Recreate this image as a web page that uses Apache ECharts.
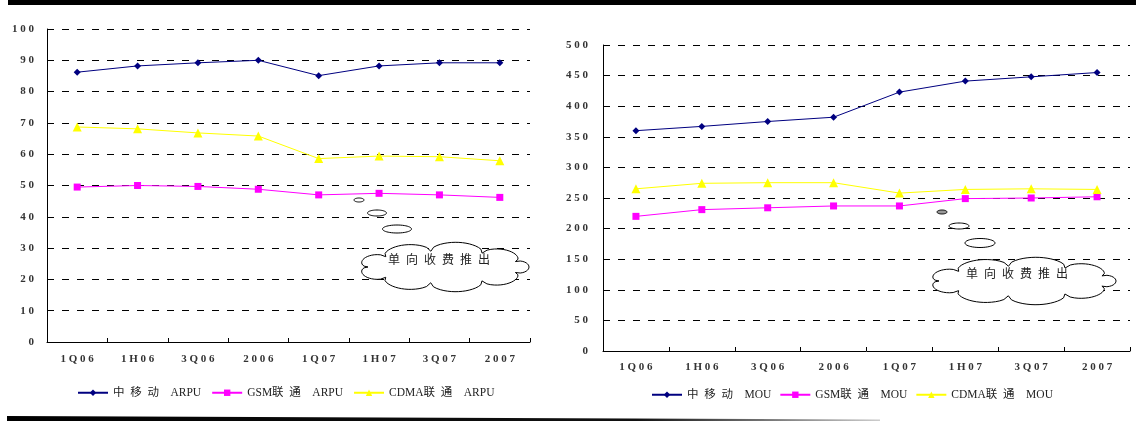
<!DOCTYPE html>
<html>
<head>
<meta charset="utf-8">
<script src="https://cdn.jsdelivr.net/npm/echarts@6/dist/echarts.min.js"></script>
<style>
  html, body { margin: 0; padding: 0; background: #fff; }
  #chart { width: 1141px; height: 423px; }
</style>
</head>
<body>
<div id="chart"></div>
<script>
// Periods shared by both panels
const categories = ['1Q06', '1H06', '3Q06', '2006', '1Q07', '1H07', '3Q07', '2007'];

// ARPU (yuan)
const arpuCMCC = [86.2, 88.2, 89.2, 90.0, 85.1, 88.2, 89.2, 89.2];
const arpuGSM  = [49.5, 50.0, 49.7, 48.8, 47.0, 47.5, 47.0, 46.2];
const arpuCDMA = [68.7, 68.1, 66.8, 65.8, 58.6, 59.4, 59.2, 57.9];

// MOU (minutes)
const mouCMCC = [360, 367, 375, 382, 423, 441, 448, 455];
const mouGSM  = [220, 231, 234, 237, 237, 249, 250, 252];
const mouCDMA = [265, 274, 275, 275, 258, 264, 265, 264];

// Value axis ranges: [min, max, interval]
const arpuAxisRange = [0, 100, 10];
const mouAxisRange  = [0, 500, 50];

// Legend names
const arpuNames = ['中移动 ARPU', 'GSM联通 ARPU', 'CDMA联通 ARPU'];
const mouNames  = ['中移动 MOU', 'GSM联通 MOU', 'CDMA联通 MOU'];

// Callout text
const calloutText = '单向收费推出';

const NAVY = '#000080', MAGENTA = '#ff00ff', YELLOW = '#ffff00';
const SERIF = '"Liberation Serif", "Times New Roman", "Noto Sans CJK SC", serif';

// Spread characters out a little, the way the labels are typeset
function spaced(s) { return s.split('').join(' '); }
function legendSpaced(name) {
  const parts = name.split(' ');
  const head = parts[0].replace(/([\u4e00-\u9fff])(?=[\u4e00-\u9fff])/g, '$1\u2002');
  return head + '\u2003' + parts.slice(1).join(' ');
}

function makeSeries(name, data, symbol, size, color, idx) {
  return {
    name: name, type: 'line', data: data,
    xAxisIndex: idx, yAxisIndex: idx,
    symbol: symbol, symbolSize: size,
    lineStyle: { color: color, width: 1 },
    itemStyle: { color: color },
    emphasis: { disabled: true },
    animation: false
  };
}

const tickFont = { color: '#333', fontSize: 11, fontWeight: 'bold', fontFamily: SERIF };

function xAxisCfg(idx, margin) {
  return {
    gridIndex: idx, type: 'category', data: categories, boundaryGap: true,
    axisLine: { show: true, lineStyle: { color: '#000', width: 1 } },
    axisTick: { show: true, inside: true, length: 4, interval: 0, lineStyle: { color: '#000' } },
    axisLabel: Object.assign({ margin: margin, interval: 0, formatter: spaced }, tickFont),
    splitLine: { show: false }
  };
}

function yAxisCfg(idx, range, margin) {
  return {
    gridIndex: idx, type: 'value', min: range[0], max: range[1], interval: range[2],
    axisLine: { show: true, lineStyle: { color: '#000', width: 1 } },
    axisTick: { show: false },
    axisLabel: Object.assign({ margin: margin,
      formatter: function (v) { return spaced(String(v)); } }, tickFont),
    splitLine: { show: true, lineStyle: { color: '#000', width: 1, type: [7, 8] } }
  };
}

function legendCfg(names, left, top, gap) {
  return {
    data: names, left: left, top: top, itemWidth: 30, itemHeight: 8, itemGap: gap,
    selectedMode: false,
    textStyle: { color: '#222', fontSize: 11.5, fontFamily: SERIF },
    formatter: legendSpaced
  };
}

// Scalloped outline for the callout cloud
function cloudPoints(cx, cy, rx, ry, bumps, bh, phase) {
  const pts = [];
  const steps = 16;
  for (let k = 0; k < bumps; k++) {
    for (let s = 0; s < steps; s++) {
      const t = s / steps;
      const a = ((k + t) / bumps) * 2 * Math.PI + phase;
      const bulge = bh * Math.sqrt(Math.sin(Math.PI * t));
      pts.push([cx + (rx + bulge) * Math.cos(a), cy + (ry + bulge) * Math.sin(a)]);
    }
  }
  return pts;
}
function ellipsePoints(cx, cy, rx, ry) {
  const pts = [];
  for (let i = 0; i < 48; i++) {
    const a = (i / 48) * 2 * Math.PI;
    pts.push([cx + rx * Math.cos(a), cy + ry * Math.sin(a)]);
  }
  return pts;
}
function bubble(cx, cy, rx, ry, fill) {
  return { type: 'polygon', z: 100, shape: { points: ellipsePoints(cx, cy, rx, ry) },
    style: { fill: fill || '#fff', stroke: '#000', lineWidth: 1 } };
}
function callout(cx, cy, rx, ry, tx, ty) {
  return [
    { type: 'polygon', z: 100, shape: { points: cloudPoints(cx, cy, rx, ry, 9, 9, 0.35) },
      style: { fill: '#fff', stroke: '#000', lineWidth: 1 } },
    { type: 'text', z: 101, x: tx, y: ty,
      style: { text: calloutText.split('').join('\u2002'), fill: '#222',
        font: '12px "Noto Sans CJK SC", sans-serif', textAlign: 'center', textVerticalAlign: 'middle' } }
  ];
}

const chart = echarts.init(document.getElementById('chart'), null, { renderer: 'canvas' });

const option = {
  backgroundColor: '#fff',
  animation: false,
  grid: [
    { left: 47, right: 611, top: 29, bottom: 81 },
    { left: 603, right: 11, top: 45, bottom: 72 }
  ],
  xAxis: [xAxisCfg(0, 12), xAxisCfg(1, 11)],
  yAxis: [yAxisCfg(0, arpuAxisRange, 13), yAxisCfg(1, mouAxisRange, 15)],
  legend: [
    legendCfg(arpuNames, 72, 382, 10),
    legendCfg(mouNames, 646, 384, 8)
  ],
  series: [
    makeSeries(arpuNames[0], arpuCMCC, 'diamond', 7, NAVY, 0),
    makeSeries(arpuNames[1], arpuGSM, 'rect', 7, MAGENTA, 0),
    makeSeries(arpuNames[2], arpuCDMA, 'triangle', 9, YELLOW, 0),
    makeSeries(mouNames[0], mouCMCC, 'diamond', 7, NAVY, 1),
    makeSeries(mouNames[1], mouGSM, 'rect', 7, MAGENTA, 1),
    makeSeries(mouNames[2], mouCDMA, 'triangle', 9, YELLOW, 1)
  ],
  graphic: [
    // page rules
    { type: 'rect', z: 50, shape: { x: 8, y: 0, width: 1128, height: 5 }, style: { fill: '#000' } },
    { type: 'polygon', z: 50, shape: { points: [[7, 416], [880, 419.6], [880, 421], [7, 421]] },
      style: { fill: { type: 'linear', x: 0, y: 0, x2: 1, y2: 0,
        colorStops: [{ offset: 0, color: '#000' }, { offset: 0.72, color: '#111' }, { offset: 1, color: '#ccc' }] } } },
    // extension of the MOU gridlines past the last category
    // ARPU callout
    bubble(359, 200, 5, 2),
    bubble(377, 213, 9.5, 3),
    bubble(397, 229, 14.5, 4),
    ...callout(444, 267, 76, 16, 439, 259),
    // MOU callout
    bubble(942, 212, 5, 2, '#999'),
    bubble(959, 226, 10, 3),
    bubble(980, 243, 15, 4.5),
    ...callout(1023, 281, 84, 15, 1017, 273)
  ]
};

chart.setOption(option);
</script>
</body>
</html>
